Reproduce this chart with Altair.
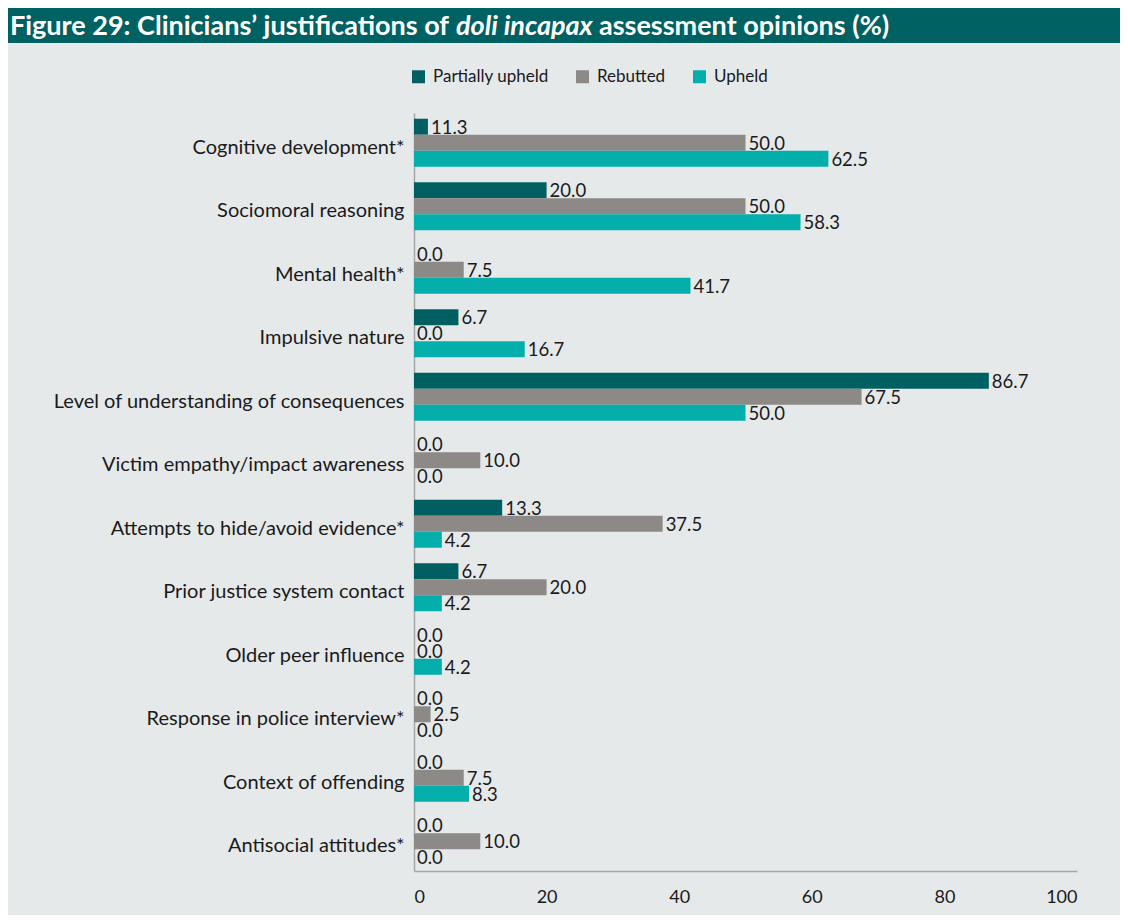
import altair as alt
import pandas as pd

categories = [
    "Cognitive development*",
    "Sociomoral reasoning",
    "Mental health*",
    "Impulsive nature",
    "Level of understanding of consequences",
    "Victim empathy/impact awareness",
    "Attempts to hide/avoid evidence*",
    "Prior justice system contact",
    "Older peer influence",
    "Response in police interview*",
    "Context of offending",
    "Antisocial attitudes*",
]
series = ["Partially upheld", "Rebutted", "Upheld"]
colors = ["#005f61", "#8c8987", "#04aeaa"]

# bar lengths as drawn in the figure
partial_bar = [2.1, 20.0, 0.0, 6.7, 86.7, 0.0, 13.3, 6.7, 0.0, 0.0, 0.0, 0.0]
rebutted_bar = [50.0, 50.0, 7.5, 0.0, 67.5, 10.0, 37.5, 20.0, 0.0, 2.5, 7.5, 10.0]
upheld_bar = [62.5, 58.3, 41.7, 16.7, 50.0, 0.0, 4.2, 4.2, 4.2, 0.0, 8.3, 0.0]
# labels as printed in the figure
partial_lab = ["11.3", "20.0", "0.0", "6.7", "86.7", "0.0", "13.3", "6.7", "0.0", "0.0", "0.0", "0.0"]
rebutted_lab = ["50.0", "50.0", "7.5", "0.0", "67.5", "10.0", "37.5", "20.0", "0.0", "2.5", "7.5", "10.0"]
upheld_lab = ["62.5", "58.3", "41.7", "16.7", "50.0", "0.0", "4.2", "4.2", "4.2", "0.0", "8.3", "0.0"]
x_ticks = [0, 20, 40, 60, 80, 100]

title_parts = ["Figure 29: Clinicians\u2019 justifications of", "doli incapax", "assessment opinions (%)"]

rows = []
for s, bars, labs in zip(series, [partial_bar, rebutted_bar, upheld_bar], [partial_lab, rebutted_lab, upheld_lab]):
    for c, v, l in zip(categories, bars, labs):
        rows.append({"category": c, "series": s, "value": v, "label": l})
df = pd.DataFrame(rows)

FONT = "Lato"
TXT = "#1a1a1a"
AXC = "#a6a6a6"

W, H = 663, 758

yenc = alt.Y(
    "category:N",
    sort=categories,
    scale=alt.Scale(paddingInner=0.244, paddingOuter=0.09),
    axis=alt.Axis(
        title=None, labelFontSize=20, labelFont=FONT, labelColor=TXT,
        labelPadding=10, labelOffset=5, ticks=False, domainColor=AXC, domainWidth=1.5, labelLimit=600,
    ),
)
yoff = alt.YOffset("series:N", sort=series, scale=alt.Scale(paddingInner=0, paddingOuter=0))
xenc = alt.X(
    "value:Q",
    scale=alt.Scale(domain=[0, 100], nice=False),
    axis=alt.Axis(
        values=x_ticks, title=None, ticks=False, grid=False, labelPadding=17,
        labelFontSize=18, labelFont=FONT, labelColor=TXT, domainColor=AXC, domainWidth=1.5,
    ),
)

base = alt.Chart(df)
bars = base.mark_bar().encode(
    y=yenc,
    yOffset=yoff,
    x=xenc,
    color=alt.Color(
        "series:N",
        sort=series,
        scale=alt.Scale(domain=series, range=colors),
        legend=alt.Legend(
            title=None, orient="none", legendX=-4, legendY=-45, direction="horizontal",
            symbolType="square", symbolSize=169, symbolStrokeWidth=0, labelFontSize=17,
            labelFont=FONT, labelColor=TXT, labelOffset=6, columnPadding=25,
        ),
    ),
)
labels = base.mark_text(align="left", baseline="middle", dx=3, dy=1, fontSize=18.5, font=FONT, color=TXT).encode(
    y=alt.Y("category:N", sort=categories),
    yOffset=alt.YOffset("series:N", sort=series),
    x=alt.X("value:Q"),
    text="label:N",
)

one = pd.DataFrame({"k": [0]})
bar_bg = alt.Chart(one).mark_rect(color="#006163").encode(
    x=alt.value(-430), x2=alt.value(740), y=alt.value(-130), y2=alt.value(-70)
)
t1 = alt.Chart(one).mark_text(align="left", baseline="middle", fontSize=27, font=FONT, fontWeight="bold", color="white").encode(
    x=alt.value(-404), y=alt.value(-86), text=alt.value(title_parts[0])
)
t2 = alt.Chart(one).mark_text(align="left", baseline="middle", fontSize=27, font=FONT, fontWeight="bold", fontStyle="italic", color="white").encode(
    x=alt.value(42), y=alt.value(-86), text=alt.value(title_parts[1])
)
t3 = alt.Chart(one).mark_text(align="left", baseline="middle", fontSize=27, font=FONT, fontWeight="bold", color="white").encode(
    x=alt.value(185), y=alt.value(-86), text=alt.value(title_parts[2])
)

chart = alt.layer(bar_bg, t1, t2, t3, bars, labels).properties(
    width=W, height=H,
    autosize=alt.AutoSizeParams(type="none"),
    padding={"left": 406, "top": 105, "right": 43, "bottom": 44},
    background="#e6e9ea",
).configure_view(stroke=None)

chart.save("out.html", embed_options={"renderer": "svg", "actions": False})
